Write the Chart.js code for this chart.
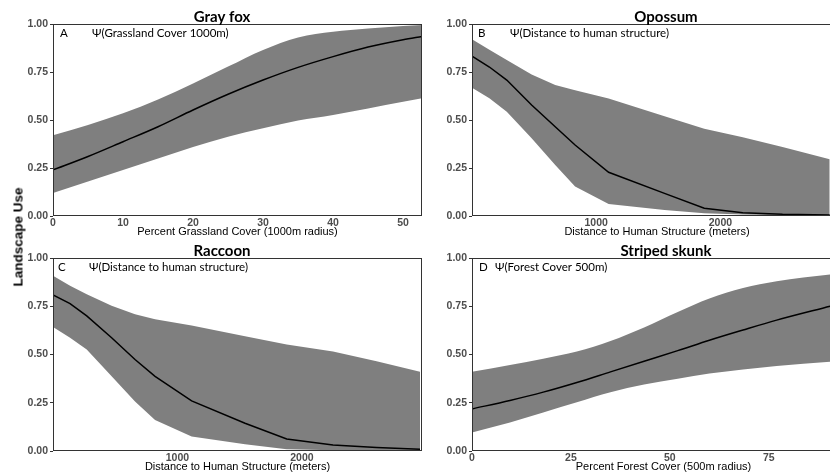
<!DOCTYPE html>
<html><head><meta charset="utf-8">
<script src="https://cdn.jsdelivr.net/npm/chart.js@4/dist/chart.umd.min.js"></script>
<style>
html,body{margin:0;padding:0;background:#fff;overflow:hidden;}
#wrap{position:relative;width:830px;height:475px;overflow:hidden;background:#fff;}
.pc{position:absolute;}
.pc canvas{display:block;}
#ylab{position:absolute;left:18px;top:237px;transform:translate(-50%,-50%) rotate(-90deg);font:bold 13.5px "Liberation Sans",Arial,sans-serif;white-space:nowrap;color:#000;}
</style></head><body>
<div id="wrap">
  <div class="pc" style="left:0;top:0;"><canvas id="cA" width="444" height="240"></canvas></div>
  <div class="pc" style="left:444px;top:0;"><canvas id="cB" width="444" height="240"></canvas></div>
  <div class="pc" style="left:0;top:235px;"><canvas id="cC" width="444" height="240"></canvas></div>
  <div class="pc" style="left:444px;top:235px;"><canvas id="cD" width="444" height="240"></canvas></div>
  <div id="ylab">Landscape Use</div>
</div>
<script>
// ---- Data ----
const panelTitles = ["Gray fox", "Opossum", "Raccoon", "Striped skunk"];
const panelLetters = ["A", "B", "C", "D"];
const panelNotes = ["Ψ(Grassland Cover 1000m)", "Ψ(Distance to human structure)", "Ψ(Distance to human structure)", "Ψ(Forest Cover 500m)"];
const xTitles = ["Percent Grassland Cover (1000m radius)", "Distance to Human Structure (meters)", "Distance to Human Structure (meters)", "Percent Forest Cover (500m radius)"];
const yTickValues = [0, 0.25, 0.5, 0.75, 1];

// A: Gray fox
const foxX     = [0, 5, 10, 15, 20, 25, 30, 35, 40, 45, 50, 52.7];
const foxMean  = [0.24, 0.31, 0.387, 0.465, 0.552, 0.634, 0.708, 0.774, 0.83, 0.88, 0.918, 0.935];
const foxUpper = [0.42, 0.474, 0.535, 0.607, 0.69, 0.778, 0.865, 0.93, 0.96, 0.977, 0.99, 0.995];
const foxLower = [0.12, 0.18, 0.24, 0.30, 0.36, 0.413, 0.457, 0.497, 0.526, 0.56, 0.595, 0.613];
const foxTicks = [0, 10, 20, 30, 40, 50];

// B: Opossum
const opoX     = [0, 140, 280, 480, 670, 830, 1100, 1550, 1870, 2180, 2500, 2880];
const opoMean  = [0.833, 0.776, 0.708, 0.578, 0.465, 0.37, 0.228, 0.118, 0.04, 0.017, 0.009, 0.005];
const opoUpper = [0.92, 0.866, 0.812, 0.737, 0.682, 0.655, 0.612, 0.52, 0.455, 0.41, 0.36, 0.295];
const opoLower = [0.668, 0.613, 0.543, 0.405, 0.266, 0.153, 0.062, 0.031, 0.014, 0.008, 0.004, 0.002];

// C: Raccoon
const racX     = [0, 137, 271, 471, 659, 820, 1114, 1543, 1878, 2250, 2600, 2949];
const racMean  = [0.809, 0.764, 0.70, 0.587, 0.474, 0.387, 0.26, 0.144, 0.0625, 0.031, 0.018, 0.009];
const racUpper = [0.908, 0.856, 0.812, 0.752, 0.708, 0.682, 0.65, 0.595, 0.552, 0.515, 0.465, 0.41];
const racLower = [0.642, 0.587, 0.526, 0.387, 0.257, 0.161, 0.075, 0.035, 0.009, 0.004, 0.003, 0.002];
const distTicks = [1000, 2000, 3000];

// D: Striped skunk
const skX     = [0, 9.6, 18, 26.5, 35, 43.5, 52, 60, 68.5, 77, 90.5];
const skMean  = [0.218, 0.262, 0.305, 0.355, 0.41, 0.465, 0.52, 0.574, 0.627, 0.678, 0.75];
const skUpper = [0.41, 0.445, 0.478, 0.515, 0.57, 0.64, 0.72, 0.79, 0.845, 0.88, 0.915];
const skLower = [0.096, 0.148, 0.2, 0.253, 0.305, 0.344, 0.375, 0.401, 0.422, 0.44, 0.462];
const skTicks = [0, 25, 50, 75];

// ---- Styling ----
const BAND = '#7f7f7f';
const TICKFONT = {family: '"Liberation Sans", Arial, sans-serif', size: 10.5, weight: 'bold'};
const TICKCOLOR = '#4d4d4d';
const XTFONT = {family: '"Liberation Sans", Arial, sans-serif', size: 11, weight: 'normal'};

const panelDeco = {
  id: 'panelDeco',
  afterDraw(chart, args, o) {
    const {ctx, chartArea: ca, width} = chart;
    ctx.save();
    ctx.strokeStyle = '#333';
    ctx.lineWidth = 1;
    ctx.strokeRect(ca.left + 0.5, ca.top + 0.5, ca.right - ca.left - 1, ca.bottom - ca.top - 1);
    ctx.fillStyle = '#000';
    ctx.font = 'bold 15px Lato, "Open Sans", sans-serif';
    ctx.textAlign = 'center';
    ctx.textBaseline = 'alphabetic';
    ctx.fillText(o.title, width / 2, ca.top - 2);
    ctx.font = '11.5px Lato, "Open Sans", sans-serif';
    ctx.textAlign = 'left';
    ctx.fillText(o.letter, ca.left + o.letterDx, ca.top + 13);
    ctx.fillText(o.note, ca.left + o.noteDx, ca.top + 13);
    ctx.restore();
  }
};

function pts(xs, ys) { return xs.map((v, i) => ({x: v, y: ys[i]})); }

function makePanel(id, c) {
  const interp = c.smooth ? 'monotone' : 'default';
  return new Chart(document.getElementById(id), {
    type: 'line',
    data: {datasets: [
      {data: pts(c.x, c.mean), fill: false, borderColor: '#000', borderWidth: 1.5, pointRadius: 0, cubicInterpolationMode: interp},
      {data: pts(c.x, c.upper), fill: '+1', backgroundColor: BAND, borderWidth: 0, borderColor: 'rgba(0,0,0,0)', pointRadius: 0, cubicInterpolationMode: interp},
      {data: pts(c.x, c.lower), fill: false, borderWidth: 0, borderColor: 'rgba(0,0,0,0)', pointRadius: 0, cubicInterpolationMode: interp}
    ]},
    options: {
      responsive: false, animation: false, events: [],
      layout: {padding: c.pad},
      plugins: {
        legend: {display: false}, tooltip: {enabled: false},
        panelDeco: {title: c.title, letter: c.letter, note: c.note, letterDx: c.letterDx, noteDx: c.noteDx}
      },
      scales: {
        x: {
          type: 'linear', min: c.xmin, max: c.xmax,
          afterFit: s => { s.height = 24; },
          afterBuildTicks: s => { s.ticks = c.ticks.filter(v => v >= c.xmin && v <= c.xmax).map(v => ({value: v})); },
          grid: {display: false, drawTicks: false},
          border: {display: false},
          ticks: {autoSkip: false, maxRotation: 0, padding: 1, font: TICKFONT, color: TICKCOLOR, callback: v => String(v)},
          title: {display: true, text: c.xtitle, font: XTFONT, color: '#000', padding: {top: 0, bottom: 1}}
        },
        y: {
          min: 0, max: 1,
          afterFit: s => { s.width = c.yw; },
          afterBuildTicks: s => { s.ticks = yTickValues.map(v => ({value: v})); },
          grid: {drawOnChartArea: false, drawTicks: true, tickLength: 3, color: '#333'},
          border: {display: false},
          ticks: {padding: 2, font: TICKFONT, color: TICKCOLOR, callback: v => Number(v).toFixed(2)}
        }
      }
    },
    plugins: [panelDeco]
  });
}

makePanel('cA', {x: foxX, mean: foxMean, upper: foxUpper, lower: foxLower, ticks: foxTicks, xmin: 0, xmax: 52.7, smooth: true,
  pad: {left: 0, top: 24, right: 22, bottom: 0}, yw: 53, title: panelTitles[0], letter: panelLetters[0], note: panelNotes[0], letterDx: 7, noteDx: 39, xtitle: xTitles[0]});
makePanel('cB', {x: opoX, mean: opoMean, upper: opoUpper, lower: opoLower, ticks: distTicks, xmin: 0, xmax: 2979, smooth: false,
  pad: {left: 0, top: 24, right: 46, bottom: 0}, yw: 28, title: panelTitles[1], letter: panelLetters[1], note: panelNotes[1], letterDx: 6, noteDx: 38, xtitle: xTitles[1]});
makePanel('cC', {x: racX, mean: racMean, upper: racUpper, lower: racLower, ticks: distTicks, xmin: 0, xmax: 2965, smooth: false,
  pad: {left: 0, top: 23, right: 22, bottom: 0}, yw: 53, title: panelTitles[2], letter: panelLetters[2], note: panelNotes[2], letterDx: 5, noteDx: 36, xtitle: xTitles[2]});
makePanel('cD', {x: skX, mean: skMean, upper: skUpper, lower: skLower, ticks: skTicks, xmin: 0, xmax: 96.8, smooth: true,
  pad: {left: 0, top: 23, right: 33, bottom: 0}, yw: 28, title: panelTitles[3], letter: panelLetters[3], note: panelNotes[3], letterDx: 7, noteDx: 23, xtitle: xTitles[3]});
</script>
</body></html>
